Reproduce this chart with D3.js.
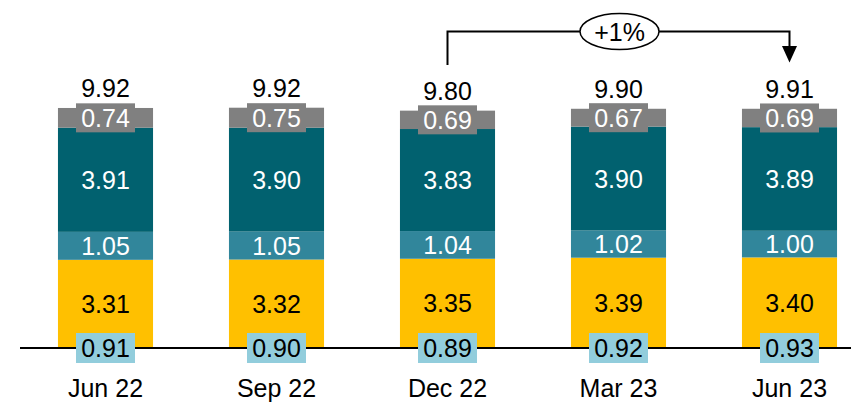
<!DOCTYPE html>
<html>
<head>
<meta charset="utf-8">
<script src="https://cdn.jsdelivr.net/npm/d3@7"></script>
<style>
  body { margin: 0; background: #fff; }
  text { font-family: "Liberation Sans", Arial, sans-serif; }
</style>
</head>
<body>
<div id="chart"></div>
<script>
// chart data
const categories = ["Jun 22", "Sep 22", "Dec 22", "Mar 23", "Jun 23"];
const baseVals   = [0.91, 0.90, 0.89, 0.92, 0.93];   // shown as box on baseline
const goldVals   = [3.31, 3.32, 3.35, 3.39, 3.40];
const midVals    = [1.05, 1.05, 1.04, 1.02, 1.00];
const tealVals   = [3.91, 3.90, 3.83, 3.90, 3.89];
const greyVals   = [0.74, 0.75, 0.69, 0.67, 0.69];
const totals     = [9.92, 9.92, 9.80, 9.90, 9.91];
const changeLabel = "+1%";

const width = 851, height = 402;
const baseY = 348;
const fontSize = 25;

const keys = ["gold", "mid", "teal", "grey"];
const colors = {gold: "#FFC000", mid: "#31869B", teal: "#01616F", grey: "#808080"};
const textColors = {gold: "#000", mid: "#fff", teal: "#fff", grey: "#fff"};

const rows = categories.map((c, i) => ({
    cat: c, base: baseVals[i], gold: goldVals[i], mid: midVals[i],
    teal: tealVals[i], grey: greyVals[i], total: totals[i]
}));

const svg = d3.select("#chart").append("svg")
    .attr("width", width)
    .attr("height", height);

const xScale = d3.scaleBand()
    .domain(categories)
    .range([20, 875])
    .paddingInner(0.444)
    .paddingOuter(0.222);

const yScale = d3.scaleLinear()
    .domain([0, 10])
    .range([baseY, baseY - 266.4]);

const stacked = d3.stack().keys(keys)(rows);

// segments
const layer = svg.selectAll(".layerG")
    .data(stacked)
    .join("g")
    .attr("class", "layerG")
    .attr("fill", d => colors[d.key]);

layer.selectAll("rect")
    .data(d => d)
    .join("rect")
    .attr("x", d => xScale(d.data.cat))
    .attr("width", xScale.bandwidth())
    .attr("y", d => yScale(d[1]))
    .attr("height", d => yScale(d[0]) - yScale(d[1]));

// baseline
svg.append("line")
    .attr("x1", 20).attr("x2", width)
    .attr("y1", baseY).attr("y2", baseY)
    .attr("stroke", "#000")
    .attr("stroke-width", 2);

// segment labels
stacked.forEach(s => {
    const g = svg.append("g");
    s.forEach(d => {
        const cx = xScale(d.data.cat) + xScale.bandwidth() / 2;
        const cy = (yScale(d[0]) + yScale(d[1])) / 2;
        if (s.key === "grey") {
            g.append("rect")
                .attr("x", cx - 29.5).attr("y", cy - 14.5)
                .attr("width", 59).attr("height", 29)
                .attr("fill", colors.grey);
        }
        g.append("text")
            .attr("x", cx).attr("y", cy)
            .attr("dy", "0.36em")
            .attr("text-anchor", "middle")
            .attr("font-size", fontSize)
            .attr("fill", textColors[s.key])
            .text(d.data[s.key].toFixed(2));
    });
});

// base boxes on the axis line
const baseG = svg.selectAll(".baseG")
    .data(rows)
    .join("g")
    .attr("class", "baseG")
    .attr("transform", d => `translate(${xScale(d.cat) + xScale.bandwidth() / 2},${yScale(0)})`);

baseG.append("rect")
    .attr("x", -29.5).attr("y", -15)
    .attr("width", 59).attr("height", 30)
    .attr("fill", "#92CDDC");

baseG.append("text")
    .attr("dy", "0.36em")
    .attr("text-anchor", "middle")
    .attr("font-size", fontSize)
    .attr("fill", "#000")
    .text(d => d.base.toFixed(2));

// totals
svg.selectAll(".totalText")
    .data(rows)
    .join("text")
    .attr("class", "totalText")
    .attr("x", d => xScale(d.cat) + xScale.bandwidth() / 2)
    .attr("y", d => yScale(d.gold + d.mid + d.teal + d.grey) - 11)
    .attr("text-anchor", "middle")
    .attr("font-size", fontSize)
    .attr("fill", "#000")
    .text(d => d.total.toFixed(2));

// category axis labels
const xAxis = svg.append("g")
    .attr("transform", `translate(0,${baseY})`)
    .call(d3.axisBottom(xScale).tickSize(0).tickPadding(0));
xAxis.select(".domain").remove();
xAxis.selectAll("text")
    .attr("y", 49)
    .attr("dy", 0)
    .attr("font-size", fontSize)
    .attr("font-family", "Liberation Sans, Arial, sans-serif")
    .attr("fill", "#000");

// change annotation Dec 22 -> Jun 23
const fromX = xScale("Dec 22") + xScale.bandwidth() / 2;
const toX = xScale("Jun 23") + xScale.bandwidth() / 2;
const topY = 31.5;

svg.append("path")
    .attr("d", `M${fromX},65 V${topY} H${toX} V48`)
    .attr("fill", "none")
    .attr("stroke", "#000")
    .attr("stroke-width", 2);

svg.append("path")
    .attr("d", `M${toX - 7.5},46 L${toX + 7.5},46 L${toX},62.5 Z`)
    .attr("fill", "#000");

const midX = xScale("Mar 23") + xScale.bandwidth() / 2 + 1;
svg.append("ellipse")
    .attr("cx", midX).attr("cy", topY)
    .attr("rx", 39.5).attr("ry", 18)
    .attr("fill", "#fff")
    .attr("stroke", "#000")
    .attr("stroke-width", 1.5);

svg.append("text")
    .attr("x", midX).attr("y", topY)
    .attr("dy", "0.36em")
    .attr("text-anchor", "middle")
    .attr("font-size", 25)
    .attr("fill", "#000")
    .text(changeLabel);
</script>
</body>
</html>
